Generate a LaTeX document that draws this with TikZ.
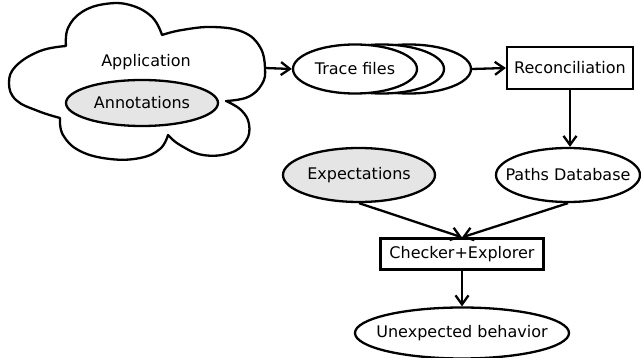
\documentclass[tikz,border=0pt]{standalone}
\usepackage{fontspec}
\setmainfont{DejaVu Sans}
\usetikzlibrary{shapes.geometric,arrows.meta}
\begin{document}
\begin{tikzpicture}[x=1pt,y=-1pt,
  every node/.style={font=\fontsize{16}{19}\selectfont},
  lw/.style={line width=2.3pt},
  oval/.style={ellipse,draw,lw,inner xsep=-15pt,inner ysep=0pt,fill=white},
  grayoval/.style={oval,fill=black!10},
  boxnode/.style={rectangle,draw,lw,inner sep=0pt},
  arr/.style={lw,-{Straight Barb[length=9pt,width=13pt,line width=2.3pt]}}]
\useasboundingbox (0,0) rectangle (641,358);
% cloud
\draw[lw,line join=round,fill=white]
  plot[smooth,tension=0.7] coordinates {(66,46) (68,28) (82,12) (105,4) (130,5) (152,17) (162,35)}
  -- plot[smooth,tension=0.7] coordinates {(162,35) (182,30) (213,27) (243,32) (260,47) (265,68) (262,84) (248,97) (226,101)}
  -- plot[smooth,tension=0.7] coordinates {(226,101) (241,110) (249,124) (246,141) (230,153) (203,155) (180,145) (168,135)}
  -- plot[smooth,tension=0.7] coordinates {(168,135) (160,149) (140,158) (110,159) (80,151) (63,135) (60,118)}
  -- plot[smooth,tension=0.7] coordinates {(60,118) (38,111) (16,100) (9,83) (16,66) (40,51) (66,46)} -- cycle;
\coordinate (cloudR) at (265,68);
\node (app) at (146,62) {Application};
\node[grayoval,minimum width=152pt,minimum height=46pt] (ann) at (142,103) {Annotations};
% trace files
\node[oval,minimum width=124pt,minimum height=49pt] (tf3) at (409,69) {};
\node[oval,minimum width=124pt,minimum height=49pt] (tf2) at (382,69) {};
\node[oval,minimum width=124pt,minimum height=49pt] (tf) at (355,69) {Trace files};
\node[boxnode,minimum width=126pt,minimum height=42pt] (rec) at (570,68) {Reconciliation};
\node[oval,minimum width=144pt,minimum height=54pt] (pd) at (568,175) {Paths Database};
\node[grayoval,minimum width=152pt,minimum height=54pt] (ex) at (359,175) {Expectations};
\node[boxnode,minimum width=163pt,minimum height=31pt] (ce) at (462,254) {Checker+Explorer};
\node[oval,minimum width=214pt,minimum height=51pt] (ub) at (462,333) {Unexpected behavior};
\draw[arr] (cloudR) -- (tf.west);
\draw[arr] (tf3.east) -- (rec.west);
\draw[arr] (rec.south) -- (rec.south |- pd.north);
\draw[arr] (ex.south) -- (ce.north);
\draw[arr] (pd.south) -- (ce.north);
\draw[arr] (ce.south) -- (ub.north);
\end{tikzpicture}
\end{document}
